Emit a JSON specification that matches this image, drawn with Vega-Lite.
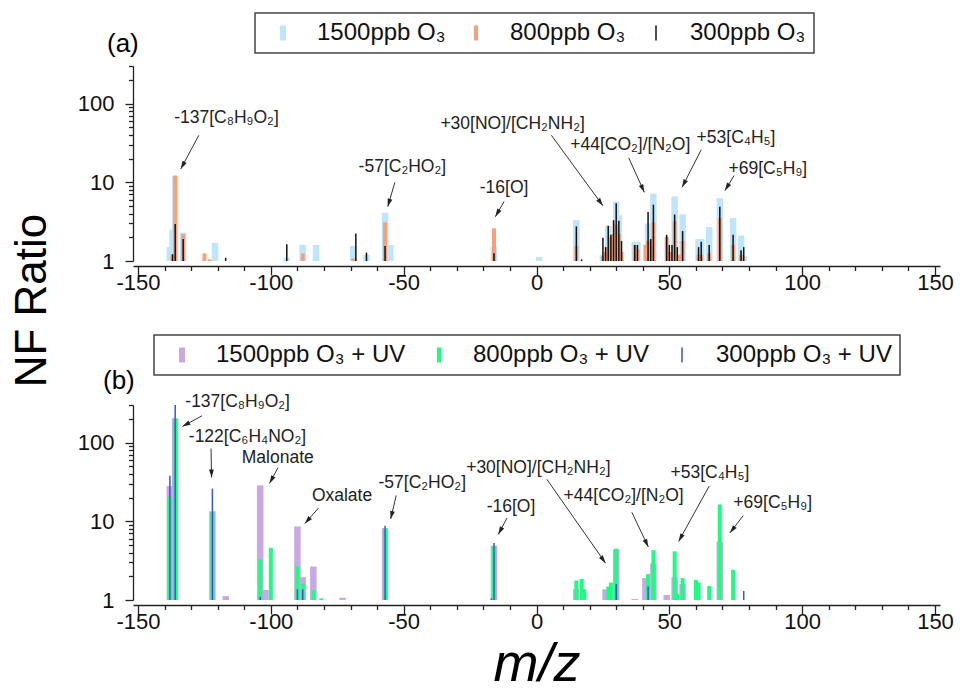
{
  "$schema": "https://vega.github.io/schema/vega-lite/v6.json",
  "padding": {"left": 10, "top": 12, "right": 5, "bottom": 5},
  "bounds": "flush",
  "spacing": 144,
  "config": {
    "font": "Liberation Sans",
    "view": {"stroke": null},
    "axis": {"grid": false, "labelFont": "Liberation Sans", "labelFontSize": 22, "labelColor": "#111", "domainColor": "#222", "tickColor": "#222", "domainWidth": 1.3, "tickWidth": 1.3, "labelFlush": false, "titleFont": "Liberation Sans", "titleFontWeight": "normal", "titleColor": "#000"}
  },
  "datasets": {
    "topbars": [
      {"mz": -138, "nf": 1.5, "series": "1500ppb O₃"}, {"mz": -137, "nf": 2.5, "series": "1500ppb O₃"}, {"mz": -136, "nf": 12.0, "series": "1500ppb O₃"}, {"mz": -133, "nf": 2.3, "series": "1500ppb O₃"}, {"mz": -121, "nf": 1.7, "series": "1500ppb O₃"}, {"mz": -94, "nf": 1.1, "series": "1500ppb O₃"}, {"mz": -88, "nf": 1.6, "series": "1500ppb O₃"}, {"mz": -83, "nf": 1.6, "series": "1500ppb O₃"}, {"mz": -69, "nf": 1.55, "series": "1500ppb O₃"}, {"mz": -64, "nf": 1.2, "series": "1500ppb O₃"}, {"mz": -57, "nf": 4.1, "series": "1500ppb O₃"}, {"mz": -55, "nf": 1.6, "series": "1500ppb O₃"}, {"mz": -16, "nf": 1.5, "series": "1500ppb O₃"}, {"mz": 1, "nf": 1.12, "series": "1500ppb O₃"}, {"mz": 15, "nf": 3.3, "series": "1500ppb O₃"}, {"mz": 25, "nf": 1.2, "series": "1500ppb O₃"}, {"mz": 27, "nf": 2.8, "series": "1500ppb O₃"}, {"mz": 30, "nf": 5.7, "series": "1500ppb O₃"}, {"mz": 31, "nf": 3.8, "series": "1500ppb O₃"}, {"mz": 37, "nf": 1.75, "series": "1500ppb O₃"}, {"mz": 38, "nf": 1.75, "series": "1500ppb O₃"}, {"mz": 42, "nf": 3.0, "series": "1500ppb O₃"}, {"mz": 44, "nf": 7.2, "series": "1500ppb O₃"}, {"mz": 52, "nf": 6.6, "series": "1500ppb O₃"}, {"mz": 55, "nf": 3.9, "series": "1500ppb O₃"}, {"mz": 61, "nf": 1.9, "series": "1500ppb O₃"}, {"mz": 62, "nf": 1.9, "series": "1500ppb O₃"}, {"mz": 65, "nf": 2.7, "series": "1500ppb O₃"}, {"mz": 69, "nf": 6.3, "series": "1500ppb O₃"}, {"mz": 74, "nf": 3.5, "series": "1500ppb O₃"}, {"mz": 77, "nf": 2.1, "series": "1500ppb O₃"}, {"mz": 78, "nf": 1.15, "series": "1500ppb O₃"},
      {"mz": -137, "nf": 1.2, "series": "800ppb O₃"}, {"mz": -136, "nf": 12.2, "series": "800ppb O₃"}, {"mz": -133, "nf": 2.2, "series": "800ppb O₃"}, {"mz": -125, "nf": 1.25, "series": "800ppb O₃"}, {"mz": -123, "nf": 1.05, "series": "800ppb O₃"}, {"mz": -88, "nf": 1.25, "series": "800ppb O₃"}, {"mz": -69, "nf": 1.08, "series": "800ppb O₃"}, {"mz": -57, "nf": 3.1, "series": "800ppb O₃"}, {"mz": -16, "nf": 2.6, "series": "800ppb O₃"}, {"mz": 15, "nf": 1.55, "series": "800ppb O₃"}, {"mz": 25, "nf": 1.15, "series": "800ppb O₃"}, {"mz": 26, "nf": 1.3, "series": "800ppb O₃"}, {"mz": 27, "nf": 1.5, "series": "800ppb O₃"}, {"mz": 28, "nf": 2.0, "series": "800ppb O₃"}, {"mz": 29, "nf": 2.2, "series": "800ppb O₃"}, {"mz": 30, "nf": 2.9, "series": "800ppb O₃"}, {"mz": 31, "nf": 2.2, "series": "800ppb O₃"}, {"mz": 32, "nf": 1.3, "series": "800ppb O₃"}, {"mz": 37, "nf": 1.6, "series": "800ppb O₃"}, {"mz": 38, "nf": 1.4, "series": "800ppb O₃"}, {"mz": 41, "nf": 1.6, "series": "800ppb O₃"}, {"mz": 42, "nf": 1.8, "series": "800ppb O₃"}, {"mz": 43, "nf": 1.5, "series": "800ppb O₃"}, {"mz": 44, "nf": 3.1, "series": "800ppb O₃"}, {"mz": 49, "nf": 2.0, "series": "800ppb O₃"}, {"mz": 50, "nf": 1.3, "series": "800ppb O₃"}, {"mz": 51, "nf": 1.3, "series": "800ppb O₃"}, {"mz": 52, "nf": 3.2, "series": "800ppb O₃"}, {"mz": 53, "nf": 1.2, "series": "800ppb O₃"}, {"mz": 54, "nf": 1.2, "series": "800ppb O₃"}, {"mz": 55, "nf": 1.8, "series": "800ppb O₃"}, {"mz": 61, "nf": 1.2, "series": "800ppb O₃"}, {"mz": 62, "nf": 1.2, "series": "800ppb O₃"}, {"mz": 65, "nf": 1.25, "series": "800ppb O₃"}, {"mz": 69, "nf": 3.5, "series": "800ppb O₃"}, {"mz": 74, "nf": 1.6, "series": "800ppb O₃"}, {"mz": 77, "nf": 1.2, "series": "800ppb O₃"},
      {"mz": -137, "nf": 1.22, "series": "300ppb O₃"}, {"mz": -136, "nf": 2.95, "series": "300ppb O₃"}, {"mz": -133, "nf": 1.9, "series": "300ppb O₃"}, {"mz": -117, "nf": 1.1, "series": "300ppb O₃"}, {"mz": -94, "nf": 1.63, "series": "300ppb O₃"}, {"mz": -68, "nf": 2.23, "series": "300ppb O₃"}, {"mz": -64, "nf": 1.28, "series": "300ppb O₃"}, {"mz": -57, "nf": 1.55, "series": "300ppb O₃"}, {"mz": -16, "nf": 1.25, "series": "300ppb O₃"}, {"mz": 15, "nf": 2.75, "series": "300ppb O₃"}, {"mz": 17, "nf": 1.05, "series": "300ppb O₃"}, {"mz": 25, "nf": 1.98, "series": "300ppb O₃"}, {"mz": 26, "nf": 1.5, "series": "300ppb O₃"}, {"mz": 27, "nf": 2.8, "series": "300ppb O₃"}, {"mz": 28, "nf": 2.15, "series": "300ppb O₃"}, {"mz": 29, "nf": 3.3, "series": "300ppb O₃"}, {"mz": 30, "nf": 5.4, "series": "300ppb O₃"}, {"mz": 31, "nf": 3.25, "series": "300ppb O₃"}, {"mz": 32, "nf": 1.8, "series": "300ppb O₃"}, {"mz": 37, "nf": 1.6, "series": "300ppb O₃"}, {"mz": 38, "nf": 1.6, "series": "300ppb O₃"}, {"mz": 42, "nf": 4.2, "series": "300ppb O₃"}, {"mz": 43, "nf": 1.9, "series": "300ppb O₃"}, {"mz": 44, "nf": 5.2, "series": "300ppb O₃"}, {"mz": 49, "nf": 2.15, "series": "300ppb O₃"}, {"mz": 50, "nf": 1.6, "series": "300ppb O₃"}, {"mz": 51, "nf": 1.6, "series": "300ppb O₃"}, {"mz": 52, "nf": 3.9, "series": "300ppb O₃"}, {"mz": 53, "nf": 1.5, "series": "300ppb O₃"}, {"mz": 55, "nf": 2.4, "series": "300ppb O₃"}, {"mz": 61, "nf": 1.5, "series": "300ppb O₃"}, {"mz": 62, "nf": 1.75, "series": "300ppb O₃"}, {"mz": 65, "nf": 1.6, "series": "300ppb O₃"}, {"mz": 69, "nf": 4.9, "series": "300ppb O₃"}, {"mz": 74, "nf": 2.15, "series": "300ppb O₃"}, {"mz": 77, "nf": 1.37, "series": "300ppb O₃"}, {"mz": 78, "nf": 1.5, "series": "300ppb O₃"}
    ],
    "botbars": [
      {"mz": -138, "nf": 28, "series": "1500ppb O₃ + UV"}, {"mz": -136, "nf": 203, "series": "1500ppb O₃ + UV"}, {"mz": -122, "nf": 13.4, "series": "1500ppb O₃ + UV"}, {"mz": -117, "nf": 1.12, "series": "1500ppb O₃ + UV"}, {"mz": -104, "nf": 28.6, "series": "1500ppb O₃ + UV"}, {"mz": -102, "nf": 1.34, "series": "1500ppb O₃ + UV"}, {"mz": -90, "nf": 8.6, "series": "1500ppb O₃ + UV"}, {"mz": -88, "nf": 1.95, "series": "1500ppb O₃ + UV"}, {"mz": -84, "nf": 2.66, "series": "1500ppb O₃ + UV"}, {"mz": -73, "nf": 1.07, "series": "1500ppb O₃ + UV"}, {"mz": -57, "nf": 8.2, "series": "1500ppb O₃ + UV"}, {"mz": -16, "nf": 4.9, "series": "1500ppb O₃ + UV"}, {"mz": 15, "nf": 1.37, "series": "1500ppb O₃ + UV"}, {"mz": 26, "nf": 1.37, "series": "1500ppb O₃ + UV"}, {"mz": 30, "nf": 4.4, "series": "1500ppb O₃ + UV"}, {"mz": 37, "nf": 1.03, "series": "1500ppb O₃ + UV"}, {"mz": 41, "nf": 1.9, "series": "1500ppb O₃ + UV"}, {"mz": 44, "nf": 2.9, "series": "1500ppb O₃ + UV"}, {"mz": 49, "nf": 1.16, "series": "1500ppb O₃ + UV"}, {"mz": 52, "nf": 1.95, "series": "1500ppb O₃ + UV"}, {"mz": 55, "nf": 1.6, "series": "1500ppb O₃ + UV"}, {"mz": 69, "nf": 5.55, "series": "1500ppb O₃ + UV"},
      {"mz": -138, "nf": 20.5, "series": "800ppb O₃ + UV"}, {"mz": -136, "nf": 200, "series": "800ppb O₃ + UV"}, {"mz": -122, "nf": 13, "series": "800ppb O₃ + UV"}, {"mz": -104, "nf": 3.3, "series": "800ppb O₃ + UV"}, {"mz": -100, "nf": 4.6, "series": "800ppb O₃ + UV"}, {"mz": -90, "nf": 2.7, "series": "800ppb O₃ + UV"}, {"mz": -88, "nf": 1.6, "series": "800ppb O₃ + UV"}, {"mz": -84, "nf": 1.34, "series": "800ppb O₃ + UV"}, {"mz": -81, "nf": 1.05, "series": "800ppb O₃ + UV"}, {"mz": -57, "nf": 8.0, "series": "800ppb O₃ + UV"}, {"mz": -16, "nf": 4.8, "series": "800ppb O₃ + UV"}, {"mz": 15, "nf": 1.77, "series": "800ppb O₃ + UV"}, {"mz": 17, "nf": 1.85, "series": "800ppb O₃ + UV"}, {"mz": 18, "nf": 1.37, "series": "800ppb O₃ + UV"}, {"mz": 27, "nf": 1.48, "series": "800ppb O₃ + UV"}, {"mz": 28, "nf": 1.66, "series": "800ppb O₃ + UV"}, {"mz": 30, "nf": 4.5, "series": "800ppb O₃ + UV"}, {"mz": 42, "nf": 2.13, "series": "800ppb O₃ + UV"}, {"mz": 44, "nf": 4.3, "series": "800ppb O₃ + UV"}, {"mz": 52, "nf": 4.15, "series": "800ppb O₃ + UV"}, {"mz": 53, "nf": 1.2, "series": "800ppb O₃ + UV"}, {"mz": 55, "nf": 1.9, "series": "800ppb O₃ + UV"}, {"mz": 60, "nf": 1.8, "series": "800ppb O₃ + UV"}, {"mz": 61, "nf": 1.66, "series": "800ppb O₃ + UV"}, {"mz": 65, "nf": 1.51, "series": "800ppb O₃ + UV"}, {"mz": 69, "nf": 16.3, "series": "800ppb O₃ + UV"}, {"mz": 74, "nf": 2.42, "series": "800ppb O₃ + UV"},
      {"mz": -138, "nf": 38, "series": "300ppb O₃ + UV"}, {"mz": -136, "nf": 300, "series": "300ppb O₃ + UV"}, {"mz": -122, "nf": 26, "series": "300ppb O₃ + UV"}, {"mz": -104, "nf": 1.1, "series": "300ppb O₃ + UV"}, {"mz": -90, "nf": 1.37, "series": "300ppb O₃ + UV"}, {"mz": -88, "nf": 1.37, "series": "300ppb O₃ + UV"}, {"mz": -57, "nf": 8.8, "series": "300ppb O₃ + UV"}, {"mz": -17, "nf": 1.05, "series": "300ppb O₃ + UV"}, {"mz": -16, "nf": 5.3, "series": "300ppb O₃ + UV"}, {"mz": 30, "nf": 1.6, "series": "300ppb O₃ + UV"}, {"mz": 42, "nf": 1.48, "series": "300ppb O₃ + UV"}, {"mz": 78, "nf": 1.3, "series": "300ppb O₃ + UV"}
    ],
    "topnotes": [
      {"label": "-137[C₈H₉O₂]", "tx": -116.7, "ty": 65, "sx": -127.1, "sy": 39.5, "ex": -133.9, "ey": 14.8},
      {"label": "-57[C₂HO₂]", "tx": -50.5, "ty": 15.5, "sx": -53.3, "sy": 10.0, "ex": -56.0, "ey": 4.9},
      {"label": "-16[O]", "tx": -12.2, "ty": 8.5, "sx": -12.2, "sy": 5.7, "ex": -15.5, "ey": 3.65},
      {"label": "+30[NO]/[CH₂NH₂]", "tx": -9.0, "ty": 55.7, "sx": 5.6, "sy": 39.5, "ex": 25.0, "ey": 5.04},
      {"label": "+44[CO₂]/[N₂O]", "tx": 35.3, "ty": 29.4, "sx": 34.7, "sy": 20.5, "ex": 40.6, "ey": 7.45},
      {"label": "+53[C₄H₅]", "tx": 75.1, "ty": 36.9, "sx": 62.0, "sy": 25.9, "ex": 54.8, "ey": 8.63},
      {"label": "+69[C₅H₉]", "tx": 87.1, "ty": 14.8, "sx": 74.4, "sy": 12.2, "ex": 70.9, "ey": 7.83}
    ],
    "botnotes": [
      {"label": "-137[C₈H₉O₂]", "tx": -112.5, "ty": 325, "sx": -125.9, "sy": 219, "ex": -133.3, "ey": 160},
      {"label": "-122[C₆H₄NO₂]", "tx": -108.8, "ty": 116, "sx": -122.5, "sy": 84, "ex": -122.3, "ey": 36},
      {"label": "Malonate", "tx": -97.4, "ty": 64.5, "sx": -97.3, "sy": 48, "ex": -100.5, "ey": 30.3},
      {"label": "Oxalate", "tx": -73.2, "ty": 20.9, "sx": -82.0, "sy": 14.8, "ex": -87.2, "ey": 9.35},
      {"label": "-57[C₂HO₂]", "tx": -43.0, "ty": 30.9, "sx": -52.8, "sy": 21.3, "ex": -54.9, "ey": 10.7},
      {"label": "-16[O]", "tx": -9.6, "ty": 15.3, "sx": -11.1, "sy": 11.0, "ex": -14.4, "ey": 6.8},
      {"label": "+30[NO]/[CH₂NH₂]", "tx": 0.7, "ty": 48.1, "sx": 3.9, "sy": 34.1, "ex": 26.0, "ey": 2.94},
      {"label": "+44[CO₂]/[N₂O]", "tx": 32.8, "ty": 20.9, "sx": 35.9, "sy": 13.0, "ex": 42.1, "ey": 4.71},
      {"label": "+53[C₄H₅]", "tx": 65.3, "ty": 41.5, "sx": 65.0, "sy": 28.0, "ex": 53.5, "ey": 5.55},
      {"label": "+69[C₅H₉]", "tx": 88.9, "ty": 17.2, "sx": 77.8, "sy": 11.8, "ex": 72.8, "ey": 7.11}
    ]
  },
  "vconcat": [
    {
      "width": 807,
      "height": 195,
      "title": {"text": "(a)", "anchor": "start", "frame": "group", "fontSize": 26, "fontWeight": "normal", "font": "Liberation Sans", "color": "#000", "dx": -26, "offset": -66, "baseline": "alphabetic"},
      "resolve": {"axis": {"x": "independent"}},
      "layer": [
        {
          "data": {"name": "topbars"},
          "transform": [{"filter": {"field": "series", "equal": "1500ppb O₃"}}],
          "mark": {"type": "bar", "size": 6.5},
          "encoding": {
            "x": {"field": "mz", "type": "quantitative", "scale": {"domain": [-150, 150], "nice": false, "zero": false},
              "axis": {"title": null, "orient": "bottom", "offset": 5, "values": [-150, -100, -50, 0, 50, 100, 150], "labelExpr": "'' + datum.value", "tickSize": 9, "labelPadding": -3}},
            "y": {"field": "nf", "type": "quantitative", "scale": {"type": "log", "domain": [1, 300], "nice": false},
              "axis": {"title": "NF Ratio", "titleFontSize": 44, "titleX": -101, "titleY": 234, "titleAngle": 270, "titleAlign": "center", "titleBaseline": "middle",
                "values": [1, 2, 3, 4, 5, 6, 7, 8, 9, 10, 20, 30, 40, 50, 60, 70, 80, 90, 100, 200, 300],
                "labelExpr": "datum.value === 1 || datum.value === 10 || datum.value === 100 ? '' + datum.value : ''",
                "tickSize": {"condition": {"test": "datum.value === 1 || datum.value === 10 || datum.value === 100", "value": 8}, "value": 4.5}, "labelPadding": 11}},
            "y2": {"datum": 1},
            "color": {"field": "series", "type": "nominal",
              "scale": {"domain": ["1500ppb O₃", "800ppb O₃", "300ppb O₃"], "range": ["#bfe5fa", "#f7a07c", "#111111"]},
              "legend": {"title": null, "orient": "none", "legendX": 122, "legendY": -53, "direction": "horizontal",
                "symbolType": "M-0.4,-1H0.4V1H-0.4Z", "symbolSize": 225, "symbolStrokeWidth": 0, "symbolOffset": 8,
                "labelFont": "Liberation Sans", "labelFontSize": 24, "labelColor": "#111", "labelLimit": 400, "labelOffset": 22, "columnPadding": 10, "padding": 8, "strokeColor": "#444",
                "encode": {"symbols": {"update": {"shape": {"signal": "datum.index === 2 ? 'M-0.1,-1H0.1V1H-0.1Z' : datum.index === 1 ? 'M-0.27,-1H0.27V1H-0.27Z' : 'M-0.4,-1H0.4V1H-0.4Z'"}}}, "legend": {"update": {"strokeWidth": {"value": 1.5}}}}}}
          }
        },
        {
          "data": {"name": "topbars"},
          "transform": [{"filter": {"field": "series", "equal": "800ppb O₃"}}],
          "mark": {"type": "bar", "size": 4},
          "encoding": {"x": {"field": "mz", "type": "quantitative", "axis": null}, "y": {"field": "nf", "type": "quantitative"}, "y2": {"datum": 1}, "color": {"field": "series", "type": "nominal"}}
        },
        {
          "data": {"name": "topbars"},
          "transform": [{"filter": {"field": "series", "equal": "300ppb O₃"}}],
          "mark": {"type": "bar", "size": 1.5},
          "encoding": {"x": {"field": "mz", "type": "quantitative", "axis": null}, "y": {"field": "nf", "type": "quantitative"}, "y2": {"datum": 1}, "color": {"field": "series", "type": "nominal"}}
        },
        {
          "data": {"name": "topnotes"},
          "mark": {"type": "rule", "color": "#333", "strokeWidth": 1},
          "encoding": {
            "x": {"field": "sx", "type": "quantitative",
              "axis": {"title": null, "orient": "bottom", "offset": 5, "domain": false, "labels": false, "tickSize": 4.5,
                "values": [-140, -130, -120, -110, -90, -80, -70, -60, -40, -30, -20, -10, 10, 20, 30, 40, 60, 70, 80, 90, 110, 120, 130, 140]}},
            "y": {"field": "sy", "type": "quantitative"}, "x2": {"field": "ex"}, "y2": {"field": "ey"}}
        },
        {
          "data": {"name": "topnotes"},
          "transform": [{"calculate": "atan2((datum.ex - datum.sx) * 2.69, (log(datum.ey) - log(datum.sy)) / LN10 * 78.7) * 180 / PI", "as": "ang"}],
          "mark": {"type": "point", "shape": "M0,0L-0.3,1L0.3,1Z", "filled": true, "color": "#222", "size": 256, "opacity": 1},
          "encoding": {"x": {"field": "ex", "type": "quantitative", "axis": null}, "y": {"field": "ey", "type": "quantitative"}, "angle": {"field": "ang", "type": "quantitative", "scale": null}}
        },
        {
          "data": {"name": "topnotes"},
          "mark": {"type": "text", "font": "Liberation Sans", "fontSize": 17.5, "color": "#222", "align": "center", "baseline": "middle"},
          "encoding": {"x": {"field": "tx", "type": "quantitative", "axis": null}, "y": {"field": "ty", "type": "quantitative"}, "text": {"field": "label"}}
        }
      ]
    },
    {
      "width": 807,
      "height": 195,
      "title": {"text": "(b)", "anchor": "start", "frame": "group", "fontSize": 26, "fontWeight": "normal", "font": "Liberation Sans", "color": "#000", "dx": -30, "offset": -81, "baseline": "alphabetic"},
      "resolve": {"axis": {"x": "independent"}},
      "layer": [
        {
          "data": {"name": "botbars"},
          "transform": [{"filter": {"field": "series", "equal": "1500ppb O₃ + UV"}}],
          "mark": {"type": "bar", "size": 6.5},
          "encoding": {
            "x": {"field": "mz", "type": "quantitative", "scale": {"domain": [-150, 150], "nice": false, "zero": false},
              "axis": {"title": "m/z", "titleFontSize": 54, "titleFontStyle": "italic", "titlePadding": 5, "orient": "bottom", "offset": 5, "values": [-150, -100, -50, 0, 50, 100, 150], "labelExpr": "'' + datum.value", "tickSize": 9, "labelPadding": -3}},
            "y": {"field": "nf", "type": "quantitative", "scale": {"type": "log", "domain": [1, 300], "nice": false},
              "axis": {"title": null,
                "values": [1, 2, 3, 4, 5, 6, 7, 8, 9, 10, 20, 30, 40, 50, 60, 70, 80, 90, 100, 200, 300],
                "labelExpr": "datum.value === 1 || datum.value === 10 || datum.value === 100 ? '' + datum.value : ''",
                "tickSize": {"condition": {"test": "datum.value === 1 || datum.value === 10 || datum.value === 100", "value": 8}, "value": 4.5}, "labelPadding": 11}},
            "y2": {"datum": 1},
            "color": {"field": "series", "type": "nominal",
              "scale": {"domain": ["1500ppb O₃ + UV", "800ppb O₃ + UV", "300ppb O₃ + UV"], "range": ["#c8a9e6", "#1aff80", "#3355d8"]},
              "legend": {"title": null, "orient": "none", "legendX": 21, "legendY": -70, "direction": "horizontal",
                "symbolType": "M-0.4,-1H0.4V1H-0.4Z", "symbolSize": 225, "symbolStrokeWidth": 0, "symbolOffset": 8,
                "labelFont": "Liberation Sans", "labelFontSize": 24, "labelColor": "#111", "labelLimit": 400, "labelOffset": 22, "columnPadding": 13, "padding": 8, "strokeColor": "#444",
                "encode": {"symbols": {"update": {"shape": {"signal": "datum.index === 2 ? 'M-0.1,-1H0.1V1H-0.1Z' : datum.index === 1 ? 'M-0.27,-1H0.27V1H-0.27Z' : 'M-0.4,-1H0.4V1H-0.4Z'"}}}, "legend": {"update": {"strokeWidth": {"value": 1.5}}}}}}
          }
        },
        {
          "data": {"name": "botbars"},
          "transform": [{"filter": {"field": "series", "equal": "800ppb O₃ + UV"}}],
          "mark": {"type": "bar", "size": 4},
          "encoding": {"x": {"field": "mz", "type": "quantitative", "axis": null}, "y": {"field": "nf", "type": "quantitative"}, "y2": {"datum": 1}, "color": {"field": "series", "type": "nominal"}}
        },
        {
          "data": {"name": "botbars"},
          "transform": [{"filter": {"field": "series", "equal": "300ppb O₃ + UV"}}],
          "mark": {"type": "bar", "size": 1.5},
          "encoding": {"x": {"field": "mz", "type": "quantitative", "axis": null}, "y": {"field": "nf", "type": "quantitative"}, "y2": {"datum": 1}, "color": {"field": "series", "type": "nominal"}}
        },
        {
          "data": {"name": "botnotes"},
          "mark": {"type": "rule", "color": "#333", "strokeWidth": 1},
          "encoding": {
            "x": {"field": "sx", "type": "quantitative",
              "axis": {"title": null, "orient": "bottom", "offset": 5, "domain": false, "labels": false, "tickSize": 4.5,
                "values": [-140, -130, -120, -110, -90, -80, -70, -60, -40, -30, -20, -10, 10, 20, 30, 40, 60, 70, 80, 90, 110, 120, 130, 140]}},
            "y": {"field": "sy", "type": "quantitative"}, "x2": {"field": "ex"}, "y2": {"field": "ey"}}
        },
        {
          "data": {"name": "botnotes"},
          "transform": [{"calculate": "atan2((datum.ex - datum.sx) * 2.69, (log(datum.ey) - log(datum.sy)) / LN10 * 78.7) * 180 / PI", "as": "ang"}],
          "mark": {"type": "point", "shape": "M0,0L-0.3,1L0.3,1Z", "filled": true, "color": "#222", "size": 256, "opacity": 1},
          "encoding": {"x": {"field": "ex", "type": "quantitative", "axis": null}, "y": {"field": "ey", "type": "quantitative"}, "angle": {"field": "ang", "type": "quantitative", "scale": null}}
        },
        {
          "data": {"name": "botnotes"},
          "mark": {"type": "text", "font": "Liberation Sans", "fontSize": 17.5, "color": "#222", "align": "center", "baseline": "middle"},
          "encoding": {"x": {"field": "tx", "type": "quantitative", "axis": null}, "y": {"field": "ty", "type": "quantitative"}, "text": {"field": "label"}}
        }
      ]
    }
  ],
  "resolve": {"scale": {"color": "independent", "x": "independent", "y": "independent"}, "legend": {"color": "independent"}}
}
